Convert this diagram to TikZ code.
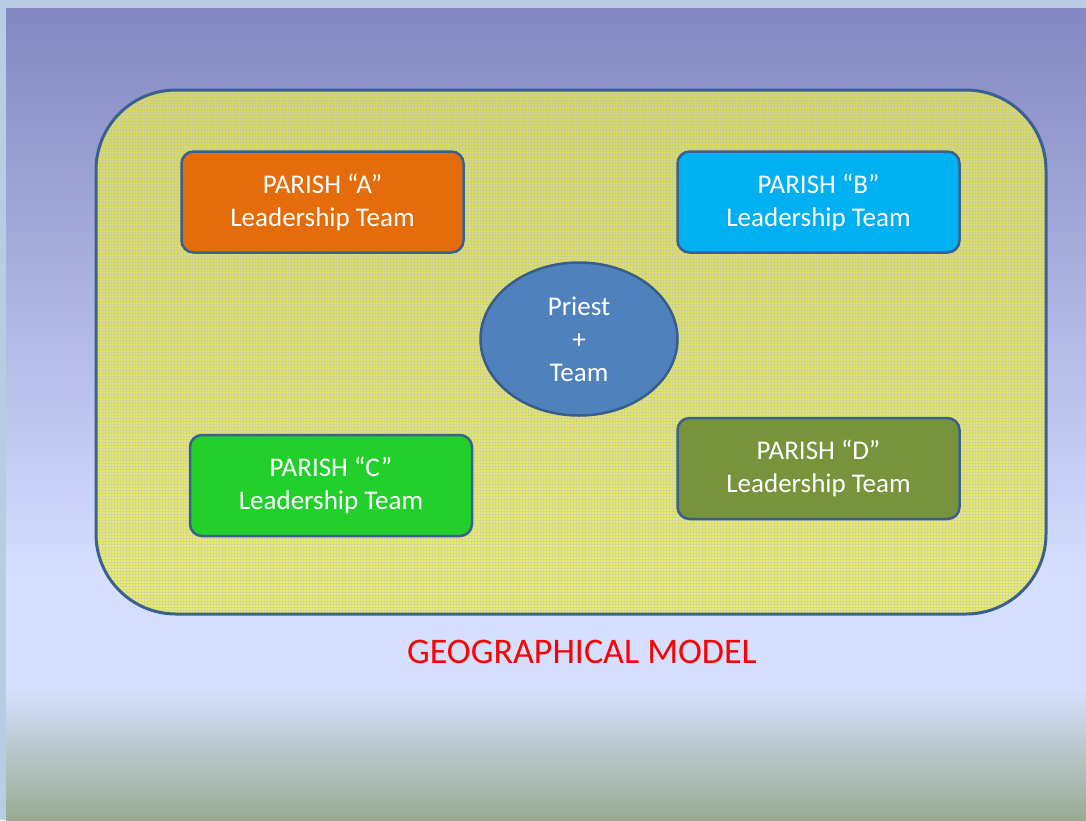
\documentclass[tikz,border=0pt]{standalone}
\usepackage{fontspec}
\setmainfont{Carlito}
\usetikzlibrary{patterns,shapes.geometric}
\definecolor{frameblue}{RGB}{184,204,228}
\definecolor{bgtop}{RGB}{131,135,194}
\definecolor{bgmid}{RGB}{213,223,255}
\definecolor{bgbot}{RGB}{152,172,147}
\definecolor{patyellow}{RGB}{240,240,60}
\definecolor{gridblue}{RGB}{175,185,220}
\definecolor{outline}{RGB}{58,96,144}
\definecolor{orangeA}{RGB}{228,108,10}
\definecolor{blueB}{RGB}{0,176,240}
\definecolor{greenC}{RGB}{33,208,42}
\definecolor{oliveD}{RGB}{119,147,60}
\definecolor{priestblue}{RGB}{79,129,189}
\definecolor{priestline}{RGB}{56,93,138}
\definecolor{titlered}{RGB}{255,0,0}
\tikzset{
  parish/.style={draw=outline, line width=2.5pt, rounded corners=12pt,
    minimum width=282pt, minimum height=101pt, text=white, align=center,
    font=\fontsize{27}{33}\selectfont, inner sep=0pt},
  priest/.style={ellipse, draw=priestline, line width=2.5pt, fill=priestblue,
    minimum width=197pt, minimum height=153pt, text=white, align=center,
    font=\fontsize{27}{33}\selectfont, inner sep=0pt},
  title/.style={text=titlered, font=\fontsize{36}{40}\selectfont, inner sep=0pt}
}
\begin{document}
\begin{tikzpicture}[x=1pt,y=-1pt]
\useasboundingbox (0,0) rectangle (1086,820);
% frame and background
\fill[frameblue] (0,0) rectangle (1086,820);
\shade[top color=bgtop, bottom color=bgmid] (6,8) rectangle (1086,580);
\fill[bgmid] (6,579) rectangle (1086,690);
\shade[top color=bgmid, bottom color=bgbot] (6,689) rectangle (1086,820);
% geographic area
\fill[patyellow, opacity=0.75, rounded corners=80pt] (96,90) rectangle (1046,614);
\fill[pattern=grid, pattern color=gridblue, opacity=0.3, rounded corners=80pt] (96,90) rectangle (1046,614);
\draw[outline, line width=3pt, rounded corners=80pt] (96,90) rectangle (1046,614);
% parishes
\node[parish, fill=orangeA] (A) at (322.5,202) {PARISH “A”\\Leadership Team};
\node[parish, fill=blueB] (B) at (818.5,202) {PARISH “B”\\Leadership Team};
\node[parish, fill=greenC] (C) at (331,485.5) {PARISH “C”\\Leadership Team};
\node[parish, fill=oliveD] (D) at (818.5,468.5) {PARISH “D”\\Leadership Team};
\node[priest] (P) at (579,339) {Priest\\+\\Team};
\node[title] (T) at (582,652) {GEOGRAPHICAL MODEL};
\end{tikzpicture}
\end{document}
